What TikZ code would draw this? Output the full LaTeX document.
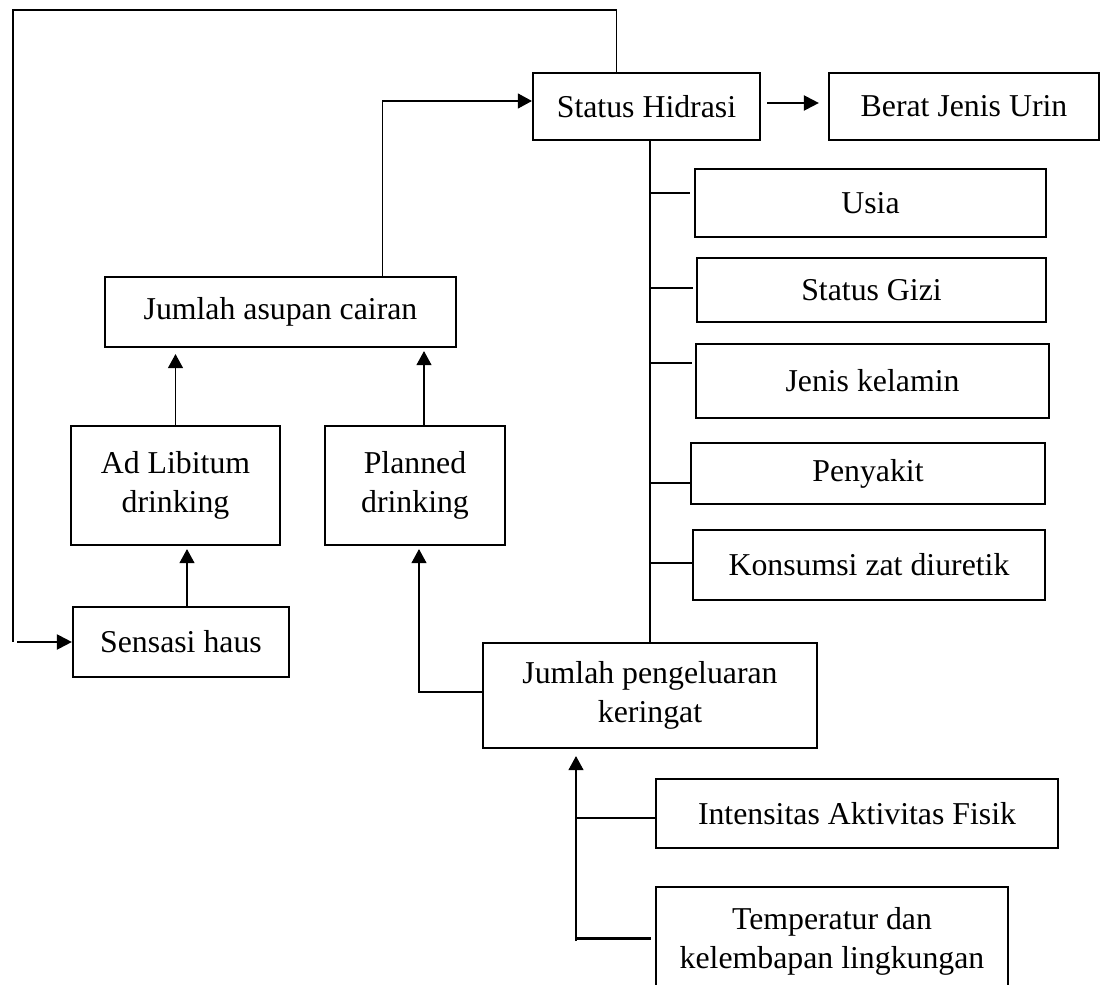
\documentclass[tikz,border=0pt]{standalone}
\usepackage{fontspec}
\setmainfont{Liberation Serif}
\usetikzlibrary{arrows.meta,calc}
\begin{document}
\begin{tikzpicture}[x=0.5pt,y=-0.5pt,
  bx/.style={draw,line width=1.1pt,inner sep=0pt,align=center,
    font=\fontsize{15.9}{19.5}\selectfont},
  thinline/.style={line width=0.55pt},
  thinarr/.style={line width=0.55pt,-{Triangle[length=7pt,width=7.5pt]}},
  thkarr/.style={line width=1.1pt,-{Triangle[length=7.5pt,width=7.5pt]}},
  bus/.style={line width=1.1pt}]
\useasboundingbox (0,0) rectangle (1100,985);
\fill[white] (0,0) rectangle (1100,985);
\clip (0,0) rectangle (1100,985);

% nodes
\node[bx,minimum width=113.5pt,minimum height=33.5pt] (stat) at (646.5,106.5) {Status Hidrasi};
\node[bx,minimum width=135pt,minimum height=33.5pt] (berat) at (964,106.5) {Berat Jenis Urin};
\node[bx,minimum width=175.5pt,minimum height=34pt] (usia) at (870.5,203) {Usia};
\node[bx,minimum width=174.5pt,minimum height=32pt] (gizi) at (871.5,290) {Status Gizi};
\node[bx,minimum width=176.5pt,minimum height=37pt] (jenis) at (872.5,381) {Jenis kelamin};
\node[bx,minimum width=177pt,minimum height=30.5pt] (peny) at (868,473.5) {Penyakit};
\node[bx,minimum width=176pt,minimum height=35pt] (kons) at (869,565) {Konsumsi zat diuretik};
\node[bx,minimum width=167pt,minimum height=52.5pt] (kel) at (650,695.5) {Jumlah pengeluaran\\keringat};
\node[bx,minimum width=201pt,minimum height=34.5pt] (inten) at (857,813.5) {Intensitas Aktivitas Fisik};
\node[bx,minimum width=176pt,minimum height=54pt] (temp) at (832,941) {Temperatur dan\\kelembapan lingkungan};
\node[bx,minimum width=175.5pt,minimum height=35pt] (asupan) at (280.5,312) {Jumlah asupan cairan};
\node[bx,minimum width=104.5pt,minimum height=59.5pt] (adlib) at (175.5,485.5) {Ad Libitum\\drinking};
\node[bx,minimum width=90pt,minimum height=59.5pt] (plan) at (415,485.5) {Planned\\drinking};
\node[bx,minimum width=108pt,minimum height=35pt] (sens) at (181,642) {Sensasi haus};

% feedback loop from Status Hidrasi to Sensasi haus
\coordinate (fbS) at ($(stat.north)+(-30,0)$);
\coordinate (fbTop) at (13,10);
\coordinate (fbEnd) at (13,642);
\coordinate (fbIn) at (17,642);
\draw[thinline] (fbS) |- (fbTop) -- (fbEnd);
\draw[thkarr] (fbIn) -- (sens.west);

% Jumlah asupan -> Status Hidrasi
\coordinate (aN) at ($(asupan.north)+(102,0)$);
\coordinate (sW) at ($(stat.west)+(0,-5.5)$);
\draw[thinarr] (aN) |- (sW);

% Status Hidrasi -> Berat Jenis Urin
\coordinate (sE) at ($(stat.east)+(6,-3.5)$);
\coordinate (bW) at ($(berat.west)+(-9,-3.5)$);
\draw[thkarr] (sE) -- (bW);

% drinking -> asupan
\draw[thinarr,shorten >=3pt] (adlib.north) -- (adlib.north |- asupan.south);
\coordinate (pA) at ($(plan.north)+(9,0)$);
\draw[thinarr,shorten >=1.5pt] (pA) -- (pA |- asupan.south);
\coordinate (sA) at ($(sens.north)+(6,0)$);
\draw[thinarr,shorten >=1.5pt] (sA) -- (sA |- adlib.south);

% keringat -> Planned drinking
\coordinate (kW) at ($(kel.west)+(0,-3.5)$);
\coordinate (pB) at ($(plan.south)+(4,0)$);
\draw[thinarr,shorten >=1.5pt] (kW) -| (pB);

% bus from Status Hidrasi down to keringat
\draw[bus] (kel.north) -- (kel.north |- stat.south);
\foreach \n/\dy/\gap in {usia/-10/4,gizi/-2/3,jenis/-18/3,peny/9.5/0,kons/-2/0}{
  \coordinate (br) at ($(\n.west)+(-\gap,\dy)$);
  \draw[bus] (br) -- (br -| kel.north);
}

% factors -> keringat
\coordinate (vB) at ($(kel.south)+(-74,192)$);
\coordinate (vT) at ($(kel.south)+(-74,0)$);
\draw[thinarr,shorten >=3.5pt] (vB) -- (vT);
\coordinate (iW) at ($(inten.west)+(0,4.5)$);
\draw[bus] (iW) -- (iW -| vB);
\coordinate (tW) at ($(temp.west)+(-4,-2.5)$);
\draw[bus] (tW) -- (tW -| vB);
\end{tikzpicture}
\end{document}
